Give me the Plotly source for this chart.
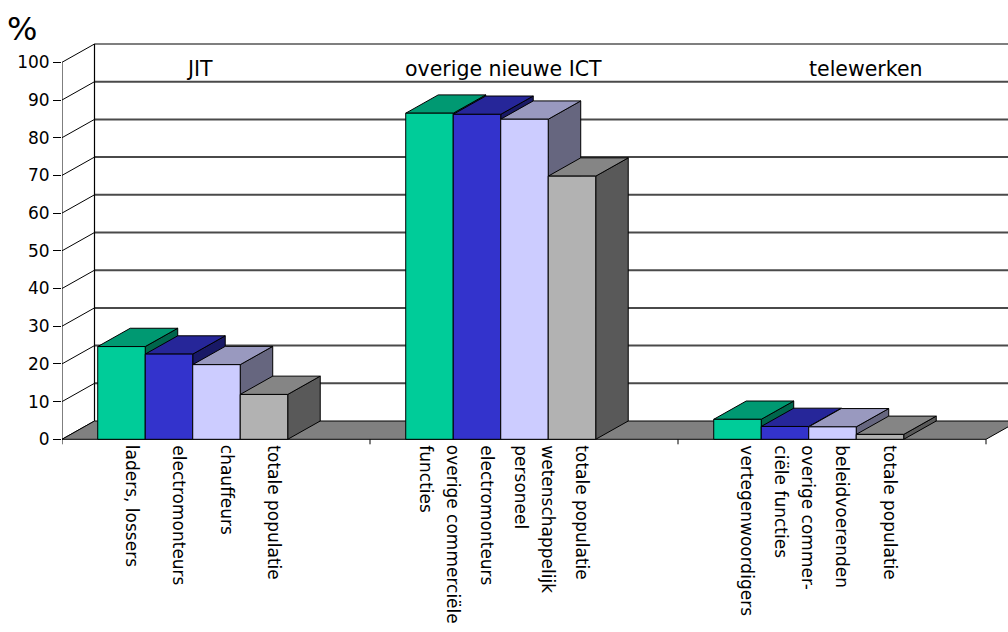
import plotly.graph_objects as go

# ---- data -------------------------------------------------------------
groups = ["JIT", "overige nieuwe ICT", "telewerken"]
bar_labels = [
    ["laders, lossers", "electromonteurs", "chauffeurs", "totale populatie"],
    ["overige commerciële\nfuncties", "electromonteurs",
     "wetenschappelijk\npersoneel", "totale populatie"],
    ["vertegenwoordigers", "overige commer-\nciële functies",
     "beleidvoerenden", "totale populatie"],
]
values = [
    [24.6, 22.6, 19.8, 11.9],
    [86.5, 86.2, 84.9, 69.8],
    [5.3, 3.4, 3.3, 1.3],
]
y_ticks = list(range(0, 101, 10))
front_colors = ["#00CC99", "#3333CC", "#CCCCFF", "#B2B2B2"]

# ---- geometry (x in category units, y in percent) ----------------------
PX_PER_CAT = 308.0          # screen pixels per category slot
PX_PER_PCT = 3.77           # screen pixels per percent
PLOT_W = 946                # width of the plotting window in pixels
N_CAT = len(groups)
X_MAX = PLOT_W / PX_PER_CAT  # plotting window runs a bit past the last slot
Y_RANGE = [-(632 - 439.3) / PX_PER_PCT, 439.3 / PX_PER_PCT]
BAR_W = 47.5 / PX_PER_CAT
GROUP_OFF = 0.116
DEPTH_X = 32.5 / PX_PER_CAT
DEPTH_Y = 18.3 / PX_PER_PCT
LABEL_SHIFT = 10 / PX_PER_CAT
LINE_GAP = 27 / PX_PER_CAT
FONT = "DejaVu Sans"


def shade(hex_color, f):
    h = hex_color.lstrip("#")
    r, g, b = (int(h[i:i + 2], 16) for i in (0, 2, 4))
    return "#{:02x}{:02x}{:02x}".format(int(r * f), int(g * f), int(b * f))


def poly(xs, ys, fill, width=1):
    return go.Scatter(
        x=xs + [xs[0]], y=ys + [ys[0]], mode="lines", fill="toself",
        fillcolor=fill, line=dict(color="black", width=width),
        hoverinfo="skip", showlegend=False,
    )


def segs(pairs, color, width):
    xs, ys = [], []
    for (x0, y0), (x1, y1) in pairs:
        xs += [x0, x1, None]
        ys += [y0, y1, None]
    return go.Scatter(x=xs, y=ys, mode="lines",
                      line=dict(color=color, width=width),
                      hoverinfo="skip", showlegend=False)


fig = go.Figure()

# back wall gridlines
grid = [((DEPTH_X, v + DEPTH_Y), (N_CAT + DEPTH_X, v + DEPTH_Y))
        for v in y_ticks[1:-1]]
fig.add_trace(segs(grid, "#4a4a4a", 2))
top = y_ticks[-1]
fig.add_trace(segs([((DEPTH_X, top + DEPTH_Y), (N_CAT + DEPTH_X, top + DEPTH_Y)),
                    ((DEPTH_X, DEPTH_Y), (DEPTH_X, top + DEPTH_Y))],
                   "black", 1.2))

# side wall diagonals
fig.add_trace(segs([((0, v), (DEPTH_X, v + DEPTH_Y)) for v in y_ticks],
                   "black", 1))

# floor
fig.add_trace(poly([0, N_CAT, N_CAT + DEPTH_X, DEPTH_X],
                   [0, 0, DEPTH_Y, DEPTH_Y], "#808080"))

# bars: side face, top face, front face, drawn left to right
for g, row in enumerate(values):
    for j, v in enumerate(row):
        col = front_colors[j]
        x0 = g + GROUP_OFF + j * BAR_W
        x1 = x0 + BAR_W
        fig.add_trace(poly([x1, x1 + DEPTH_X, x1 + DEPTH_X, x1],
                           [0, DEPTH_Y, v + DEPTH_Y, v], shade(col, 0.5)))
        fig.add_trace(poly([x0, x1, x1 + DEPTH_X, x0 + DEPTH_X],
                           [v, v, v + DEPTH_Y, v + DEPTH_Y], shade(col, 0.75)))
        fig.add_trace(poly([x0, x1, x1, x0], [0, 0, v, v], col))

# front value axis and category ticks
tick_len = 5 / PX_PER_PCT
fig.add_trace(segs([((0, 0), (0, top))] +
                   [((c, 0), (c, -tick_len)) for c in range(N_CAT + 1)],
                   "black", 1))

annotations = []
# group titles on the back wall
title_x = [(199 - 62) / PX_PER_CAT, (503 - 62) / PX_PER_CAT, (866 - 62) / PX_PER_CAT]
for name, tx in zip(groups, title_x):
    annotations.append(dict(x=tx, y=98.2, xref="x", yref="y", text=name,
                            showarrow=False, xanchor="center", yanchor="middle",
                            font=dict(family=FONT, size=20.5, color="black")))

# rotated category labels under each bar
for g, row in enumerate(bar_labels):
    for j, lab in enumerate(row):
        lines = lab.split("\n")
        n = len(lines)
        xc = g + GROUP_OFF + j * BAR_W + BAR_W / 2 + LABEL_SHIFT
        for k, line in enumerate(lines):
            annotations.append(dict(
                x=xc + ((n - 1) / 2 - k) * LINE_GAP, y=0, xref="x", yref="y",
                yshift=-4, text=line, textangle=90, showarrow=False,
                xanchor="center", yanchor="top",
                font=dict(family=FONT, size=17, color="black")))

# unit label, left of the value axis
annotations.append(dict(x=(21.5 - 62) / PLOT_W, y=1 - 28.5 / 632,
                        xref="paper", yref="paper",
                        text="%", showarrow=False, xanchor="center",
                        yanchor="middle",
                        font=dict(family=FONT, size=32, color="black")))

fig.update_layout(
    width=1008, height=632,
    margin=dict(l=62, r=0, t=0, b=0, pad=0),
    paper_bgcolor="white", plot_bgcolor="white",
    showlegend=False,
    font=dict(family=FONT, color="black"),
    annotations=annotations,
    xaxis=dict(range=[0, X_MAX], visible=False, fixedrange=True,
               automargin=False),
    yaxis=dict(range=Y_RANGE, tickvals=y_ticks, ticks="outside", ticklen=8,
               tickcolor="black", tickwidth=1, showgrid=False, zeroline=False,
               showline=False, automargin=False, fixedrange=True,
               tickfont=dict(family=FONT, size=17, color="black")),
)

fig.write_html("out.html")
